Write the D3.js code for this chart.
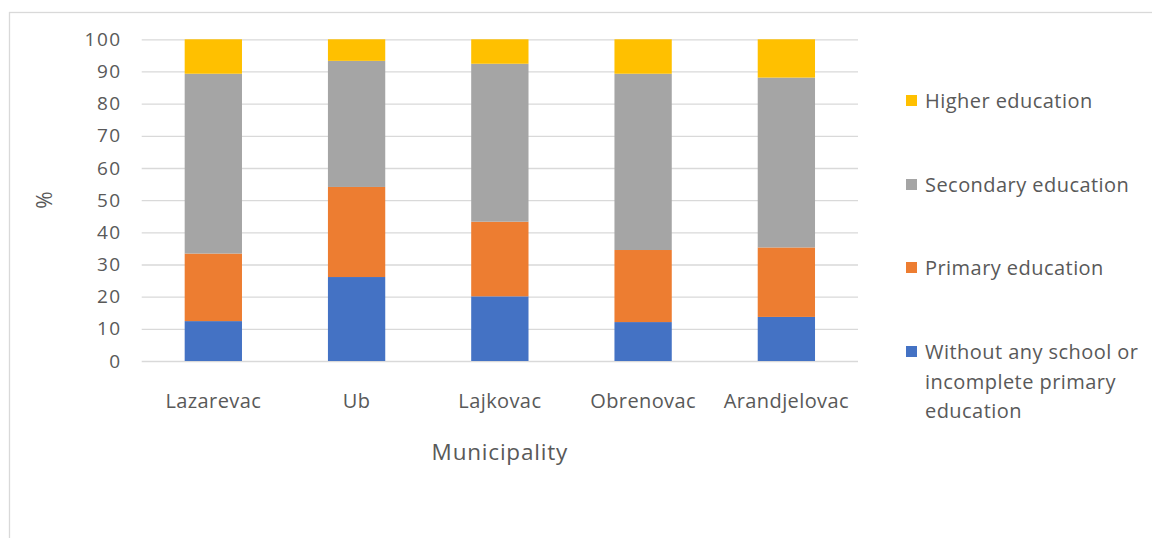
<!DOCTYPE html>
<html>
<head>
<meta charset="utf-8">
<script src="https://cdn.jsdelivr.net/npm/d3@7"></script>
<style>
  html, body { margin: 0; padding: 0; background: #fff; }
  svg { display: block; }
  text { font-family: "Open Sans", Lato, sans-serif; fill: #595959; }
</style>
</head>
<body>
<svg id="chart" width="1152" height="538"></svg>
<script>
// Educational attainment by municipality (% of population)
const municipalities = ["Lazarevac", "Ub", "Lajkovac", "Obrenovac", "Arandjelovac"];
const withoutSchool = [12.4, 26.1, 20.1, 12.1, 13.7];
const primaryEdu    = [21.0, 28.0, 23.2, 22.4, 21.6];
const secondaryEdu  = [55.9, 39.2, 49.1, 54.8, 52.8];
const higherEdu     = [10.7, 6.7, 7.6, 10.7, 11.9];
const yTicks = [0, 10, 20, 30, 40, 50, 60, 70, 80, 90, 100];

const seriesNames = [
  "Without any school or incomplete primary education",
  "Primary education",
  "Secondary education",
  "Higher education"
];
const seriesColors = ["#4472c4", "#ed7d31", "#a5a5a5", "#ffc000"];
const seriesValues = [withoutSchool, primaryEdu, secondaryEdu, higherEdu];

const rows = municipalities.map((m, i) => {
  const r = { municipality: m };
  seriesNames.forEach((s, k) => { r[s] = seriesValues[k][i]; });
  return r;
});

const svg = d3.select("#chart");
const FONT = "'Open Sans', Lato, sans-serif";

// chart area frame (right and bottom edges fall outside the view)
svg.append("rect")
  .attr("x", 9.5).attr("y", 12.5)
  .attr("width", 1160).attr("height", 560)
  .attr("fill", "none").attr("stroke", "#d9d9d9").attr("stroke-width", 1.3);

const plot = { left: 141.7, right: 858, top: 39.3, bottom: 361 };

const x = d3.scaleBand()
  .domain(municipalities)
  .range([plot.left, plot.right])
  .paddingInner(0.6)
  .paddingOuter(0.3);

const y = d3.scaleLinear()
  .domain([0, 100])
  .range([plot.bottom, plot.top]);

// gridlines + y tick labels
const yAxis = d3.axisLeft(y)
  .tickValues(yTicks)
  .tickSize(-(plot.right - plot.left))
  .tickPadding(20);

const gy = svg.append("g")
  .attr("transform", `translate(${plot.left},0)`)
  .call(yAxis);
gy.select(".domain").remove();
gy.selectAll(".tick line").attr("stroke", "#d9d9d9").attr("stroke-width", 1.3);
gy.selectAll(".tick text")
  .attr("font-size", 19)
  .attr("letter-spacing", 1.5)
  .attr("fill", "#595959")
  .style("font-family", FONT);

// stacked bars
const stack = d3.stack().keys(seriesNames);
const layers = stack(rows);

svg.append("g")
  .selectAll("g")
  .data(layers)
  .join("g")
  .attr("fill", (d, i) => seriesColors[i])
  .selectAll("rect")
  .data(d => d)
  .join("rect")
  .attr("x", d => x(d.data.municipality))
  .attr("width", x.bandwidth())
  .attr("y", d => y(d[1]))
  .attr("height", d => y(d[0]) - y(d[1]));

// x axis labels
const xAxis = d3.axisBottom(x).tickSize(0).tickPadding(33);
const gx = svg.append("g")
  .attr("transform", `translate(0,${plot.bottom})`)
  .call(xAxis);
gx.select(".domain").remove();
gx.selectAll(".tick text")
  .attr("font-size", 20)
  .attr("letter-spacing", 0.4)
  .attr("fill", "#595959")
  .style("font-family", FONT);

// axis titles
svg.append("text")
  .attr("x", (plot.left + plot.right) / 2)
  .attr("y", 460)
  .attr("text-anchor", "middle")
  .attr("font-size", 22.5)
  .attr("letter-spacing", 0.8)
  .text("Municipality");

svg.append("text")
  .attr("transform", "translate(52,200) rotate(-90)")
  .attr("text-anchor", "middle")
  .attr("font-size", 21)
  .text("%");

// legend (top-to-bottom in reverse stack order)
const legendItems = [
  { color: seriesColors[3], lines: ["Higher education"], y: 101 },
  { color: seriesColors[2], lines: ["Secondary education"], y: 185 },
  { color: seriesColors[1], lines: ["Primary education"], y: 268 },
  { color: seriesColors[0], lines: ["Without any school or", "incomplete primary", "education"], y: 352 }
];

const legend = svg.append("g");
legendItems.forEach(item => {
  legend.append("rect")
    .attr("x", 906).attr("y", item.y - 6)
    .attr("width", 11).attr("height", 11)
    .attr("fill", item.color);
  const t = legend.append("text")
    .attr("x", 925).attr("y", item.y + 7)
    .attr("font-size", 20)
    .attr("letter-spacing", 0.45);
  item.lines.forEach((ln, i) => {
    t.append("tspan").attr("x", 925).attr("dy", i === 0 ? 0 : 29.5).text(ln);
  });
});
</script>
</body>
</html>
